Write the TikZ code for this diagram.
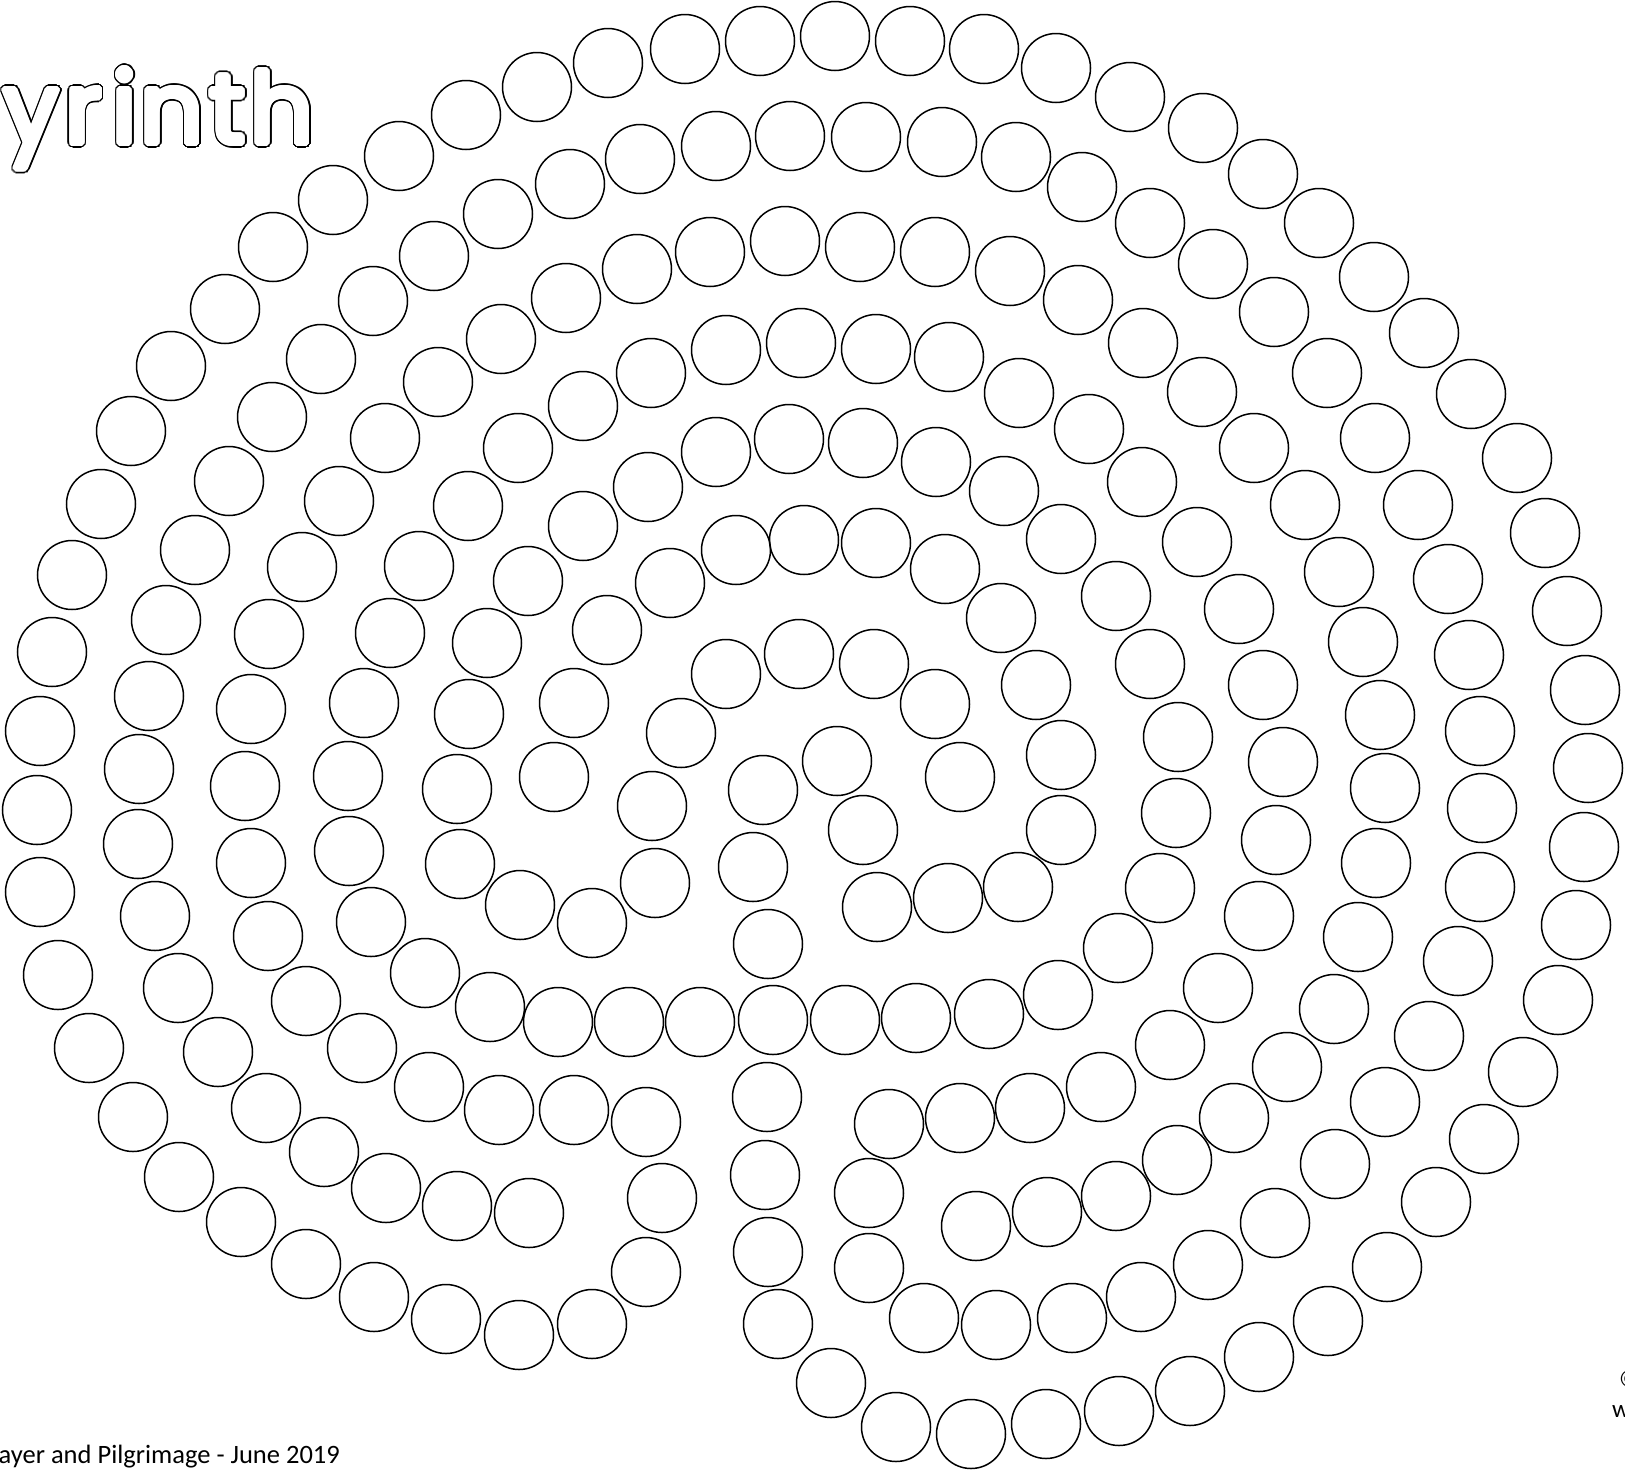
\documentclass[tikz,border=0pt]{standalone}
\usepackage{fontspec}
\setmainfont{Carlito}
\newfontfamily\titlefont{Poppins}
\tikzset{
  ring/.style={draw=black, line width=1.5pt},
  ttl/.style={font=\titlefont\fontsize{98.5}{100}\selectfont, anchor=base west, inner sep=0pt},
  foottext/.style={font=\fontsize{26.5}{29}\selectfont, anchor=base east, inner sep=0pt, text=black},
  edgetext/.style={font=\fontsize{25}{27}\selectfont, anchor=base west, inner sep=0pt, text=black}
}
\begin{document}
\begin{tikzpicture}[x=1pt, y=-1pt]
\fill[white] (0,0) rectangle (1625,1470);
\useasboundingbox (0,0) rectangle (1625,1470);
% stones of the labyrinth
\foreach \x/\y in {
537/87, 466/115, 399/156, 333/200, 273/247, 225/309, 171/366, 131/431,
570/184, 498/214, 434/256, 373/301, 321/359, 272/417, 229/481,
566/298, 501/339, 438/382, 385/438, 518/448,
608/63, 685/49, 760/41, 835/36, 910/41, 984/49, 1056/68,
640/159, 716/146, 790/136, 866/137, 942/142, 1016/157, 1082/187,
637/269, 710/252, 785/241, 860/247, 935/252, 1010/271, 1078/300,
583/406, 651/373, 726/350, 801/343, 876/349, 949/357, 1019/393, 1089/429,
648/487, 716/452, 789/439, 863/443, 936/462, 1004/491,
1130/97, 1203/128, 1263/174, 1319/223, 1374/277, 1424/333, 1471/394, 1517/458,
1150/223, 1213/264, 1274/312, 1327/373, 1375/438, 1418/505,
1143/343, 1202/392, 1254/448, 1305/505, 1142/482,
101/504, 72/575, 52/652, 40/731, 37/810, 40/892, 58/975,
195/550, 166/620, 149/696, 139/769, 138/844, 155/916, 178/988,
339/501, 302/567, 269/634, 251/709, 245/786, 251/863, 268/936, 306/1001,
468/506, 419/566, 390/633, 364/703, 348/776, 349/851, 371/922, 425/973,
528/581, 487/643, 469/714, 457/789, 460/864, 520/905, 490/1007,
583/526, 736/550, 804/540, 876/543, 945/569, 1001/618, 1036/685, 1061/755,
1061/830, 1018/887, 948/898, 877/907, 1061/539,
670/583, 607/630, 574/703, 554/777, 681/733, 726/674, 799/654, 874/664,
935/704, 960/777, 863/830, 837/761, 763/790, 753/867, 768/944, 652/806,
655/883, 592/923,
1197/542, 1545/533, 1116/596, 1239/609, 1339/572, 1448/579, 1567/611,
1150/664, 1263/685, 1363/642, 1469/655, 1585/690, 1178/737, 1283/762,
1380/715, 1480/731, 1588/768, 1176/813, 1276/840, 1385/788, 1482/808,
1584/847, 1160/888, 1259/916, 1376/863, 1480/887, 1576/925, 1118/948,
1358/937, 1458/961,
89/1048, 218/1052, 362/1048, 429/1087, 499/1110, 133/1117, 266/1108,
324/1152, 386/1188, 457/1206, 529/1213, 179/1177, 241/1222, 306/1264,
374/1297, 446/1319, 519/1335,
558/1022, 629/1022, 700/1022, 773/1020, 845/1020, 916/1018, 989/1014, 1058/995,
574/1110, 646/1122, 767/1097, 889/1124, 960/1118, 1030/1108,
662/1198, 765/1175, 869/1193, 976/1226, 1047/1212,
646/1272, 768/1252, 869/1268, 924/1318, 996/1325, 1072/1318, 592/1324,
778/1324, 831/1383, 896/1427, 971/1434, 1046/1424,
1218/988, 1334/1009, 1558/1000, 1170/1045, 1101/1087, 1287/1067, 1429/1036,
1523/1072, 1234/1118, 1385/1102, 1484/1139, 1177/1160, 1116/1196, 1335/1164,
1436/1202, 1275/1223, 1387/1267, 1208/1265, 1141/1297, 1328/1321, 1259/1357,
1190/1391, 1119/1411}
  \draw[ring] (\x,\y) circle[radius=34.5];
% outlined title, letter by letter
\foreach \lx/\lt [count=\i] in {3.5/y, 65/r, 112.5/i, 140.5/n, 209.5/t, 250.5/h} {
  \coordinate (lp\i) at (\lx,143.5);
  \foreach \a in {0,15,...,345}
    \node[ttl, text=black] at ([shift={(\a:4.6)}]lp\i) {\lt};
  \foreach \a in {0,22.5,...,337.5}
    \node[ttl, text=white] at ([shift={(\a:3.2)}]lp\i) {\lt};
  \node[ttl, text=white] (title\i) at (lp\i) {\lt};
}
% footer texts
\node[foottext] (foot) at (340,1463) {ayer and Pilgrimage - June 2019};
\node[edgetext] (copy) at (1619,1387) {©};
\node[edgetext] (web) at (1612,1417) {w};
\end{tikzpicture}
\end{document}
